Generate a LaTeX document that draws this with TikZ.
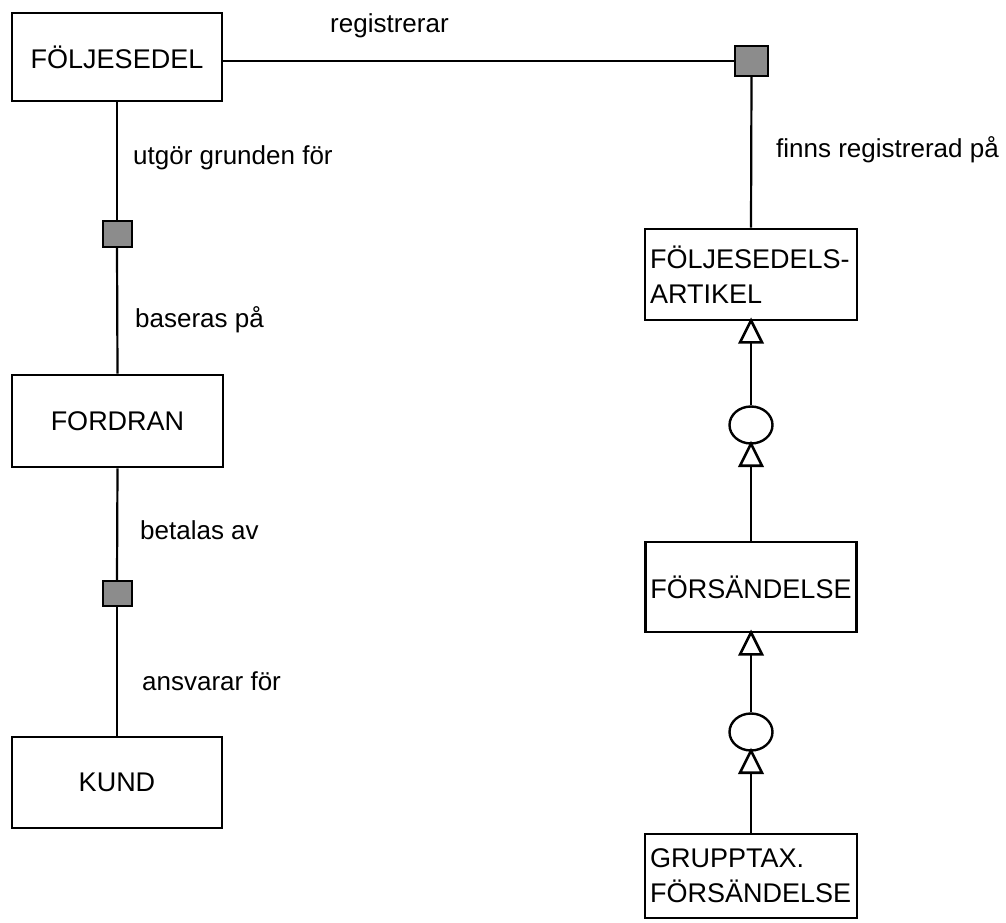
\documentclass[tikz,border=0pt]{standalone}
\usepackage{fontspec}
\setmainfont{Liberation Sans}
\usetikzlibrary{shapes.geometric}
\begin{document}
\begin{tikzpicture}[x=1pt,y=-1pt,
  ent/.style={draw, line width=2.8pt, inner sep=0pt, font=\fontsize{27}{35}\selectfont},
  rel/.style={draw, line width=2pt, fill=black!45, inner sep=0pt},
  lbl/.style={anchor=mid west, inner sep=0pt, font=\fontsize{26}{30}\selectfont},
  conn/.style={line width=2.2pt},
  sub/.style={draw, ellipse, line width=2.4pt, minimum width=43pt, minimum height=37pt, inner sep=0pt},
  tri/.style={draw, fill=white, line width=2.6pt, line join=miter}
]
\useasboundingbox (0,0) rectangle (1006,923);

% entities
\node[ent, minimum width=210pt, minimum height=88pt] (fs) at (117,57) {FÖLJESEDEL};
\node[ent, minimum width=211pt, minimum height=92pt] (fordran) at (117.5,421) {FORDRAN};
\node[ent, minimum width=210pt, minimum height=91pt] (kund) at (117,782.5) {KUND};
\node[ent, minimum width=212pt, minimum height=91pt, text width=202pt, align=left] (fa) at (751,274.5) {FÖLJESEDELS-\\ARTIKEL};
\node[ent, minimum width=211pt, minimum height=90pt] (fors) at (751,587) {FÖRSÄNDELSE};
\node[ent, minimum width=212pt, minimum height=84pt, text width=202pt, align=left] (grupp) at (751,876) {GRUPPTAX.\\FÖRSÄNDELSE};

% relationship squares
\node[rel, minimum width=33pt, minimum height=30pt] (sq1) at (751.5,61) {};
\node[rel, minimum width=29pt, minimum height=26pt] (sq2) at (117,234) {};
\node[rel, minimum width=29pt, minimum height=25pt] (sq3) at (117,593.5) {};

% subtype circles
\node[sub] (c1) at (751,425) {};
\node[sub] (c2) at (751,732) {};

% connectors
\draw[conn] (fs.east |- sq1) -- (sq1.west);
\draw[conn] (sq1.south) -- (fa.north);
\draw[conn] (fs.south) -- (sq2.north);
\draw[conn] (sq2.south) -- (fordran.north);
\draw[conn] (fordran.south) -- (sq3.north);
\draw[conn] (sq3.south) -- (kund.north);
\draw[conn] (c1.north) -- (fa.south);
\draw[conn] (fors.north) -- (c1.south);
\draw[conn] (c2.north) -- (fors.south);
\draw[conn] (grupp.north) -- (c2.south);

% open triangles (subtype arrowheads)
\draw[tri] ([yshift=1pt]fa.south) -- ++(-11,22) -- ++(22,0) -- cycle;
\draw[tri] ([yshift=1pt]c1.south) -- ++(-11,22) -- ++(22,0) -- cycle;
\draw[tri] ([yshift=1pt]fors.south) -- ++(-11,22) -- ++(22,0) -- cycle;
\draw[tri] ([yshift=1pt]c2.south) -- ++(-11,22) -- ++(22,0) -- cycle;

% labels
\node[lbl] (l1) at (330,30) {registrerar};
\node[lbl] (l2) at (776,155) {finns registrerad på};
\node[lbl] (l3) at (133,162) {utgör grunden för};
\node[lbl] (l4) at (135,325) {baseras på};
\node[lbl] (l5) at (140,537) {betalas av};
\node[lbl] (l6) at (142,688) {ansvarar för};
\end{tikzpicture}
\end{document}
